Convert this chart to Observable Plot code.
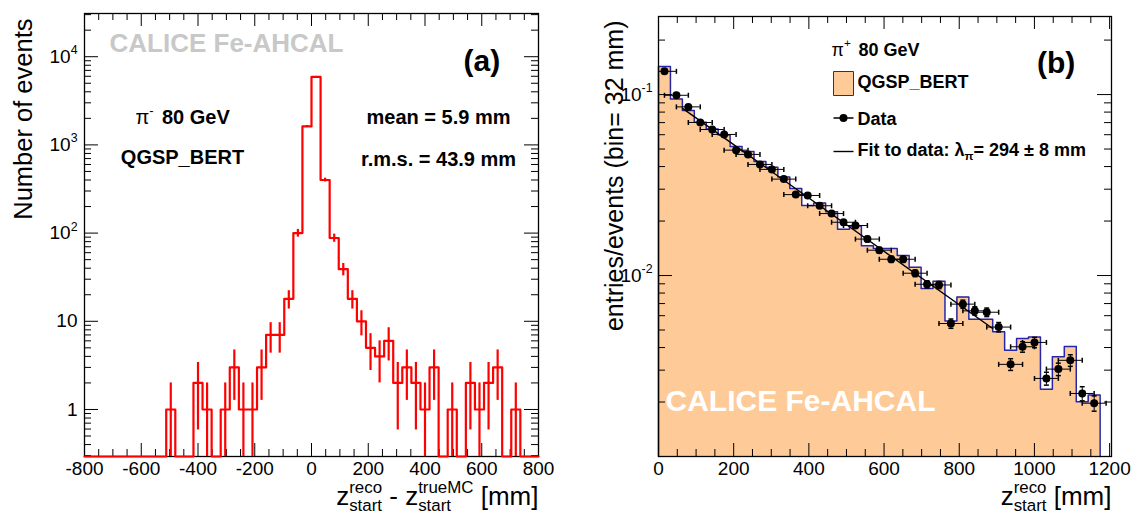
<!DOCTYPE html>
<html>
<head>
<meta charset="utf-8">
<script src="https://cdn.jsdelivr.net/npm/d3@7"></script>
<script src="https://cdn.jsdelivr.net/npm/@observablehq/plot@0.6"></script>
<style>
  html, body { margin: 0; padding: 0; background: #fff; }
  #wrap { display: flex; width: 1136px; height: 516px; overflow: hidden; }
  #wrap > svg { flex: none; overflow: visible; }
</style>
</head>
<body>
<div id="wrap"></div>
<script>
// ================= DATA =================
// Panel (a): z_start^reco - z_start^trueMC for QGSP_BERT, pi- 80 GeV (bins of 32 mm from -800 mm)
const aBinStart = -800;
const aBinWidth = 32;
const aCounts = [0,0,0,0,0,0,0,0,0,1, 0,0,2,1,0,1,3,1,1,3, 7,7,18,100,1620,5900,400,88,39,18, 10,5,4,6,2,3,2,1,3,0, 1,0,2,1,2,3,0,1,0,0];
const aXDomain = [-800, 800];
const aYDomain = [0.293, 30900];
const aXTicks = [-800, -600, -400, -200, 0, 200, 400, 600, 800];
const aXTickLabels = ["-800", "-600", "-400", "-200", "0", "200", "400", "600", "800"];
const aYTicks = [1, 10, 100, 1000, 10000];
const aYTickLabels = ["1", "10", "10^{2}", "10^{3}", "10^{4}"];
const aXTitle = "z^{reco}_{start} - z^{trueMC}_{start} [mm]";
const aYTitle = "Number of events";
const aTexts = ["CALICE Fe-AHCAL", "(a)", "π^{-}", "80 GeV", "QGSP_BERT", "mean = 5.9 mm", "r.m.s. = 43.9 mm"];

// Panel (b): z_start^reco, pi+ 80 GeV, QGSP_BERT vs data (bins of ~32 mm)
const bBinWidth = 31.75;
const bMC = [0.1427,0.0945,0.0816,0.0704,0.0645,0.0598,0.0517,0.0485,0.0427,0.0396,0.0350,0.0303,0.0244,0.0252,0.0225,0.0180,0.0188,0.0146,0.0141,0.0141,0.0129,0.0111,0.00848,0.00930,0.00560,0.00762,0.00574,0.00574,0.00489,0.00387,0.00449,0.00458,0.00235,0.00356,0.00406,0.00201,0.00219];
const bData = [0.1344,0.0991,0.0855,0.0701,0.0641,0.0602,0.0493,0.0467,0.0411,0.0386,0.0341,0.0280,0.0277,0.0243,0.0220,0.0197,0.0189,0.0159,0.0138,0.0123,0.0123,0.0103,0.00895,0.00887,0.00543,0.00695,0.00638,0.00627,0.00519,0.00323,0.00404,0.00427,0.00270,0.00304,0.00340,0.00223,0.00197];
const bDataErr = [0.00158,0.00135,0.00126,0.00114,0.00109,0.00106,0.00095,0.00093,0.00087,0.00084,0.00079,0.00072,0.00072,0.00067,0.00064,0.00060,0.00059,0.00054,0.00051,0.00048,0.00048,0.00044,0.00041,0.00041,0.00032,0.00036,0.00034,0.00034,0.00031,0.00024,0.00027,0.00028,0.00022,0.00024,0.00025,0.00020,0.00019];
const bDataXErr = 31.75;
const bFitX = [64, 889];
const bFitY = [0.0839, 0.00510];
const bXDomain = [0, 1205];
const bYDomain = [0.001, 0.27];
const bXTicks = [0, 200, 400, 600, 800, 1000, 1200];
const bXTickLabels = ["0", "200", "400", "600", "800", "1000", "1200"];
const bYTicks = [0.01, 0.1];
const bYTickLabels = ["10^{-2}", "10^{-1}"];
const bXTitle = "z^{reco}_{start} [mm]";
const bYTitle = "entries/events (bin= 32 mm)";
const bLegend = ["π^{+}", "80 GeV", "QGSP_BERT", "Data", "Fit to data: λ_{π}= 294 ± 8 mm"];
const bTexts = ["(b)", "CALICE Fe-AHCAL"];

// ================= STYLE =================
const FONT = '"Liberation Sans", Arial, Helvetica, sans-serif';
const W = 568, H = 516;
const RED = "#ff0000";
const PEACH = "#fecb98";
const BLUE = "#2626a6";
const TICKFS = 19;

const hLineSym = {draw(c) { c.moveTo(-10, 0); c.lineTo(10, 0); }};
const swatchSym = {draw(c) { c.moveTo(-10, -12); c.lineTo(10, -12); c.lineTo(10, 12); c.lineTo(-10, 12); c.closePath(); }};
const vCapSym = {draw(c) { c.moveTo(0, -2.5); c.lineTo(0, 2.5); }};
const hCapSym = {draw(c) { c.moveTo(-2.5, 0); c.lineTo(2.5, 0); }};

function minorLog(domain) {
  const out = [];
  for (let e = -4; e <= 5; e++) for (let m = 2; m <= 9; m++) {
    const v = m * Math.pow(10, e);
    if (v > domain[0] && v < domain[1]) out.push(v);
  }
  return out;
}
function frameTicks(xMaj, xMin, yMaj, yMin, innerW, innerH) {
  const L = 13, l = 7, s = {stroke: "black", strokeWidth: 1};
  return [
    Plot.tickX(xMaj, {x: d => d, insetTop: innerH - L, ...s}),
    Plot.tickX(xMaj, {x: d => d, insetBottom: innerH - L, ...s}),
    Plot.tickX(xMin, {x: d => d, insetTop: innerH - l, ...s}),
    Plot.tickX(xMin, {x: d => d, insetBottom: innerH - l, ...s}),
    Plot.tickY(yMaj, {y: d => d, insetRight: innerW - L - 1, ...s}),
    Plot.tickY(yMaj, {y: d => d, insetLeft: innerW - L - 1, ...s}),
    Plot.tickY(yMin, {y: d => d, insetRight: innerW - l, ...s}),
    Plot.tickY(yMin, {y: d => d, insetLeft: innerW - l, ...s})
  ];
}
const T = (text, o) => Plot.text([text], {text: d => d, frameAnchor: "top-left", lineAnchor: "bottom", textAnchor: "start", fill: "black", ...o});

// ================= PANEL (a) =================
const aM = {l: 84, r: 30, t: 13, b: 60};
const aInnerW = W - aM.l - aM.r, aInnerH = H - aM.t - aM.b;
const aFloor = aYDomain[0];
const aBins = aCounts.map((n, k) => ({x0: aBinStart + k * aBinWidth, x1: aBinStart + (k + 1) * aBinWidth, n}));
const aStep = aBins.map(b => ({x: b.x0, y: Math.max(b.n, aFloor)}));
aStep.push({x: aBins[aBins.length - 1].x1, y: aStep[aStep.length - 1].y});
const aErr = aBins.filter(b => b.n > 0).map(b => ({
  x: (b.x0 + b.x1) / 2, y1: Math.max(b.n - Math.sqrt(b.n), aFloor), y2: b.n + Math.sqrt(b.n)
}));
const aXMinor = d3.range(aXDomain[0] + 50, aXDomain[1], 50).filter(v => v % 200 !== 0);

const plotA = Plot.plot({
  width: W, height: H,
  marginLeft: aM.l, marginRight: aM.r, marginTop: aM.t, marginBottom: aM.b,
  style: {fontFamily: FONT, fontSize: TICKFS + "px", color: "black", overflow: "visible"},
  x: {domain: aXDomain},
  y: {type: "log", domain: aYDomain},
  marks: [
    ...frameTicks(aXTicks, aXMinor, aYTicks, minorLog(aYDomain), aInnerW, aInnerH),
    Plot.frame({stroke: "black", strokeWidth: 1.3}),
    Plot.axisX({ticks: aXTicks, tickSize: 0, tickPadding: 5, label: null, fontSize: TICKFS,
      tickFormat: d => aXTickLabels[aXTicks.indexOf(d)]}),
    Plot.axisY({ticks: aYTicks, tickSize: 0, tickPadding: 7, label: null, fontSize: TICKFS,
      tickFormat: d => aYTickLabels[aYTicks.indexOf(d)]}),
    Plot.line(aStep, {x: "x", y: "y", curve: "step-after", stroke: RED, strokeWidth: 2.2}),
    Plot.ruleX(aErr, {x: "x", y1: "y1", y2: "y2", stroke: RED, strokeWidth: 2.2}),
    T(aTexts[0], {dx: 25, dy: 38, fill: "#c8c8c8", fontWeight: "bold", fontSize: 26}),
    T(aTexts[1], {dx: 379, dy: 57.5, fontWeight: "bold", fontSize: 30}),
    T(aTexts[2], {dx: 51, dy: 110, fontSize: 20}),
    T(aTexts[3], {dx: 77.5, dy: 110, fontWeight: "bold", fontSize: 20}),
    T(aTexts[4], {dx: 98, dy: 150, textAnchor: "middle", fontWeight: "bold", fontSize: 20}),
    T(aTexts[5], {dx: 354, dy: 110, textAnchor: "middle", fontWeight: "bold", fontSize: 20}),
    T(aTexts[6], {dx: 354, dy: 152, textAnchor: "middle", fontWeight: "bold", fontSize: 20}),
    T(aXTitle, {frameAnchor: "bottom-right", textAnchor: "end", dx: 0, dy: 48, fontSize: 26}),
    T(aYTitle, {rotate: -90, textAnchor: "end", dx: -53, dy: 5, fontSize: 25.5})
  ]
});

// ================= PANEL (b) =================
const bM = {l: 90, r: 25, t: 16, b: 60};
const bInnerW = W - bM.l - bM.r, bInnerH = H - bM.t - bM.b;
const bFloor = bYDomain[0];
const bArea = bMC.map((v, k) => ({x: k * bBinWidth, y: v}));
bArea.push({x: bMC.length * bBinWidth, y: bMC[bMC.length - 1]});
const bOutline = [{x: 0, y: bFloor}, ...bArea, {x: bMC.length * bBinWidth, y: bFloor}];
const bPts = bData.map((v, k) => ({x: (k + 0.5) * bBinWidth, y: v, e: bDataErr[k]}));
const bFit = bFitX.map((x, i) => ({x, y: bFitY[i]}));
const bXMinor = d3.range(50, bXDomain[1], 50).filter(v => v % 200 !== 0);

const plotB = Plot.plot({
  width: W, height: H,
  marginLeft: bM.l, marginRight: bM.r, marginTop: bM.t, marginBottom: bM.b,
  style: {fontFamily: FONT, fontSize: TICKFS + "px", color: "black", overflow: "visible"},
  x: {domain: bXDomain},
  y: {type: "log", domain: bYDomain},
  marks: [
    Plot.area(bArea, {x1: "x", y1: () => bFloor, y2: "y", curve: "step-after", fill: PEACH}),
    Plot.line(bOutline, {x: "x", y: "y", curve: "step-after", stroke: BLUE, strokeWidth: 1.5}),
    T(bTexts[1], {dx: 7, dy: 394, fill: "white", fontWeight: "bold", fontSize: 30}),
    ...frameTicks(bXTicks, bXMinor, bYTicks, minorLog(bYDomain), bInnerW, bInnerH),
    Plot.frame({stroke: "black", strokeWidth: 1.3}),
    Plot.axisX({ticks: bXTicks, tickSize: 0, tickPadding: 5, label: null, fontSize: TICKFS,
      tickFormat: d => bXTickLabels[bXTicks.indexOf(d)]}),
    Plot.axisY({ticks: bYTicks, tickSize: 0, tickPadding: 6, label: null, fontSize: TICKFS,
      tickFormat: d => bYTickLabels[bYTicks.indexOf(d)]}),
    Plot.line(bFit, {x: "x", y: "y", stroke: "black", strokeWidth: 1.4}),
    Plot.ruleY(bPts, {y: "y", x1: d => d.x - bDataXErr, x2: d => d.x + bDataXErr, stroke: "black", strokeWidth: 1, clip: true}),
    Plot.ruleX(bPts, {x: "x", y1: d => d.y - d.e, y2: d => d.y + d.e, stroke: "black", strokeWidth: 1}),
    Plot.dot(bPts, {x: d => d.x - bDataXErr, y: "y", symbol: vCapSym, stroke: "black", fill: "none", clip: true}),
    Plot.dot(bPts, {x: d => d.x + bDataXErr, y: "y", symbol: vCapSym, stroke: "black", fill: "none", clip: true}),
    Plot.dot(bPts, {x: "x", y: d => d.y - d.e, symbol: hCapSym, stroke: "black", fill: "none"}),
    Plot.dot(bPts, {x: "x", y: d => d.y + d.e, symbol: hCapSym, stroke: "black", fill: "none"}),
    Plot.dot(bPts, {x: "x", y: "y", r: 4, fill: "black", stroke: "none"}),
    // legend
    T(bLegend[0], {dx: 173, dy: 39, fontSize: 18}),
    T(bLegend[1], {dx: 200, dy: 39, fontWeight: "bold", fontSize: 18}),
    Plot.dot([0], {frameAnchor: "top-left", dx: 185, dy: 67, symbol: swatchSym, fill: PEACH, stroke: BLUE, strokeWidth: 1}),
    T(bLegend[2], {dx: 199, dy: 71.5, fontWeight: "bold", fontSize: 18}),
    Plot.dot([0], {frameAnchor: "top-left", dx: 185, dy: 101.5, symbol: hLineSym, stroke: "black", fill: "none"}),
    Plot.dot([0], {frameAnchor: "top-left", dx: 185, dy: 101.5, r: 4, fill: "black", stroke: "none"}),
    T(bLegend[3], {dx: 199, dy: 108, fontWeight: "bold", fontSize: 18}),
    Plot.dot([0], {frameAnchor: "top-left", dx: 185, dy: 135, symbol: hLineSym, stroke: "black", strokeWidth: 1.4, fill: "none"}),
    T(bLegend[4], {dx: 199, dy: 139, fontWeight: "bold", fontSize: 18}),
    T(bTexts[0], {dx: 378.5, dy: 56, fontWeight: "bold", fontSize: 30}),
    T(bXTitle, {frameAnchor: "bottom-right", textAnchor: "end", dx: 0, dy: 48, fontSize: 26}),
    T(bYTitle, {rotate: -90, textAnchor: "end", dx: -36, dy: 4, fontSize: 25})
  ]
});

const wrap = document.getElementById("wrap");
wrap.appendChild(plotA);
wrap.appendChild(plotB);

// ---- rich text: ^{...} superscripts and _{...} subscripts as tspans ----
function processRich(svg) {
  const NS = "http://www.w3.org/2000/svg";
  svg.querySelectorAll("text").forEach(t => {
    const src = t.textContent;
    if (!/[\^_]\{/.test(src)) return;
    const parts = [];
    let buf = "", i = 0;
    while (i < src.length) {
      const c = src[i];
      if ((c === "^" || c === "_") && src[i + 1] === "{") {
        if (buf) { parts.push({k: "n", s: buf}); buf = ""; }
        const j = src.indexOf("}", i);
        parts.push({k: c === "^" ? "sup" : "sub", s: src.slice(i + 2, j)});
        i = j + 1;
      } else { buf += c; i++; }
    }
    if (buf) parts.push({k: "n", s: buf});
    const fs = parseFloat(getComputedStyle(t).fontSize) || 18;
    while (t.firstChild) t.removeChild(t.firstChild);
    let cur = 0, prev = null;
    for (const p of parts) {
      const ts = document.createElementNS(NS, "tspan");
      ts.textContent = p.s;
      const target = p.k === "sup" ? -0.45 * fs : p.k === "sub" ? 0.24 * fs : 0;
      if (target !== cur) ts.setAttribute("dy", (target - cur).toFixed(2));
      cur = target;
      if (p.k !== "n") ts.setAttribute("font-size", (0.65 * fs).toFixed(2));
      t.appendChild(ts);
      p.w = ts.getComputedTextLength();
      if (prev && prev.k !== "n" && p.k !== "n" && prev.k !== p.k && !prev.stacked) {
        ts.setAttribute("dx", (-prev.w).toFixed(2));
        p.stacked = true; p.back = prev.w;
      } else if (prev && prev.stacked && p.k === "n") {
        const extra = Math.max(0, prev.back - prev.w);
        if (extra) ts.setAttribute("dx", extra.toFixed(2));
      }
      prev = p;
    }
  });
}
processRich(plotA);
processRich(plotB);
</script>
</body>
</html>
